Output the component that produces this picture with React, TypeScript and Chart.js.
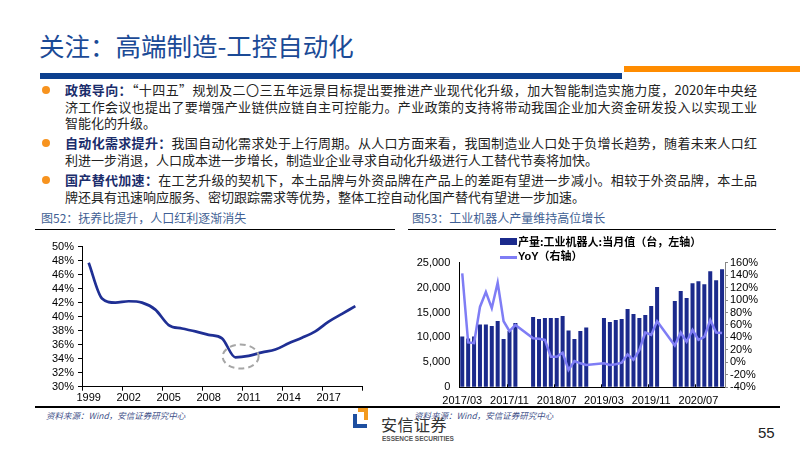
import React, { useEffect, useRef } from 'react';
import { Chart, registerables } from 'chart.js';
Chart.register(...registerables);

// ---- Figure 52 data: dependency ratio ----
const years = ['1999','2000','2001','2002','2003','2004','2005','2006','2007','2008','2009','2010','2011','2012','2013','2014','2015','2016','2017','2018','2019'];
const dependencyRatio = [47.7, 42.6, 42.0, 42.2, 42.0, 41.0, 38.8, 38.3, 37.9, 37.4, 36.9, 34.2, 34.4, 34.9, 35.3, 36.2, 37.0, 37.9, 39.3, 40.4, 41.5];
const leftTicksMin = 30;
const leftTicksMax = 50;

// ---- Figure 53 data: industrial robot output ----
const months = [
  '2017/03','2017/04','2017/05','2017/06','2017/07','2017/08','2017/09','2017/10','2017/11','2017/12',
  '2018/01','2018/02','2018/03','2018/04','2018/05','2018/06','2018/07','2018/08','2018/09','2018/10','2018/11','2018/12',
  '2019/01','2019/02','2019/03','2019/04','2019/05','2019/06','2019/07','2019/08','2019/09','2019/10','2019/11','2019/12',
  '2020/01','2020/02','2020/03','2020/04','2020/05','2020/06','2020/07','2020/08','2020/09','2020/10','2020/11'
];
const robotOutput = [
  10200, 9800, 10200, 12600, 12600, 12300, 13300, 9700, 11300, 12900,
  null, null, 14100, 13700, 13900, 13900, 13900, 14300, 11400, 9700, 11300, 12000,
  null, null, 13900, 13100, 13500, 13700, 15700, 14700, 13900, 14500, 16300, 20100,
  null, null, 17300, 19300, 17900, 20900, 21300, 20700, 23300, 21500, 23700
];
const robotYoY = [
  143, 32, 31, 89, 113, 87, 128, 66, 50, 60,
  null, null, 38.6, 38, 36, 9, 9, 15.6, -12, 2, -1.5, -4,
  null, null, -1.5, -4, -3, -0.5, 13, 4, 20, 48, 44, 66,
  null, null, 27, 48, 33, 52, 36, 41, 68, 48, 47
];
const outputLabel = '产量:工业机器人:当月值（台，左轴）';
const yoyLabel = 'YoY（右轴）';

const AXIS_FONT = { family: '"Liberation Sans", Arial, sans-serif', size: 11 };
const CJK = '"Noto Sans CJK SC", "Noto Sans", sans-serif';

const ellipsePlugin = {
  id: 'ellipseMark',
  afterDatasetsDraw(chart: any) {
    const x = chart.scales.x;
    const y = chart.scales.y;
    const cx = x.getPixelForValue(11.4);
    const cy = y.getPixelForValue(34.3);
    const ctx = chart.ctx;
    ctx.save();
    ctx.strokeStyle = '#A6A6A6';
    ctx.lineWidth = 2;
    ctx.setLineDash([6, 4]);
    ctx.beginPath();
    ctx.ellipse(cx, cy, 18, 12, 0, 0, Math.PI * 2);
    ctx.stroke();
    ctx.restore();
  },
};

const innerTicksPlugin = {
  id: 'innerTicks',
  afterDraw(chart: any) {
    const x = chart.scales.x;
    const bottom = chart.chartArea.bottom;
    const ctx = chart.ctx;
    ctx.save();
    ctx.strokeStyle = '#000';
    ctx.lineWidth = 1;
    for (let i = 8; i < months.length; i += 8) {
      const px = Math.round(x.getPixelForValue(i - 0.5)) + 0.5;
      ctx.beginPath();
      ctx.moveTo(px, bottom);
      ctx.lineTo(px, bottom - 3);
      ctx.stroke();
    }
    ctx.restore();
  },
};

function LeftChart() {
  const ref = useRef<HTMLCanvasElement>(null);
  useEffect(() => {
    const chart = new Chart(ref.current as HTMLCanvasElement, {
      type: 'line',
      data: {
        labels: years,
        datasets: [{
          data: dependencyRatio,
          borderColor: '#1F2F94',
          borderWidth: 2.7,
          pointRadius: 0,
          cubicInterpolationMode: 'monotone',
          fill: false,
        }],
      },
      options: {
        responsive: false,
        animation: false,
        devicePixelRatio: 1,
        layout: { padding: { top: 8.3, right: 33, left: 0, bottom: 0 } },
        plugins: { legend: { display: false }, tooltip: { enabled: false } },
        scales: {
          x: {
            type: 'category',
            offset: true,
            grid: {
              offset: true,
              drawOnChartArea: false,
              drawTicks: true,
              tickLength: 4,
              tickColor: (c: any) => (c.index === undefined || c.index % 3 === 0 ? '#000' : 'rgba(0,0,0,0)'),
            },
            border: { color: '#000', width: 1 },
            ticks: {
              autoSkip: false,
              maxRotation: 0,
              padding: 1,
              color: '#000',
              font: AXIS_FONT,
              callback: (_v: any, i: number) => (i % 3 === 0 ? years[i] : ''),
            },
            afterFit: (s: any) => { s.height = 19.3; },
          },
          y: {
            min: leftTicksMin,
            max: leftTicksMax,
            grid: { drawOnChartArea: false, drawTicks: true, tickLength: 4, tickColor: '#000' },
            border: { color: '#000', width: 1 },
            ticks: {
              autoSkip: false,
              stepSize: 2,
              padding: 4,
              color: '#000',
              font: AXIS_FONT,
              callback: (v: any) => `${v}%`,
            },
            afterFit: (s: any) => { s.width = 47; },
          },
        },
      } as any,
      plugins: [ellipsePlugin],
    });
    return () => chart.destroy();
  }, []);
  return <canvas ref={ref} width={360} height={170} style={{ position: 'absolute', left: 35, top: 236 }} />;
}

function RightChart() {
  const ref = useRef<HTMLCanvasElement>(null);
  useEffect(() => {
    const chart = new Chart(ref.current as HTMLCanvasElement, {
      type: 'bar',
      data: {
        labels: months,
        datasets: [
          {
            type: 'line',
            label: yoyLabel,
            data: robotYoY,
            yAxisID: 'y1',
            borderColor: '#7F7DF5',
            borderWidth: 2.5,
            pointRadius: 0,
            spanGaps: true,
            tension: 0,
            order: 0,
          },
          {
            type: 'bar',
            label: outputLabel,
            data: robotOutput,
            yAxisID: 'y',
            backgroundColor: '#1B2A8C',
            barPercentage: 0.68,
            categoryPercentage: 1,
            order: 1,
          },
        ],
      },
      options: {
        responsive: false,
        animation: false,
        devicePixelRatio: 1,
        layout: { padding: { top: 30.7, right: 0, left: 0, bottom: 0 } },
        plugins: { legend: { display: false }, tooltip: { enabled: false } },
        scales: {
          x: {
            type: 'category',
            offset: true,
            grid: { display: true, drawOnChartArea: false, drawTicks: false },
            border: { color: '#000', width: 1 },
            ticks: {
              autoSkip: false,
              maxRotation: 0,
              padding: 7,
              color: '#000',
              font: AXIS_FONT,
              callback: (_v: any, i: number) => (i % 8 === 0 ? months[i] : ''),
            },
            afterFit: (s: any) => { s.height = 18.7; },
          },
          y: {
            position: 'left',
            min: 0,
            max: 25000,
            grid: { drawOnChartArea: false, drawTicks: false },
            border: { color: '#000', width: 1 },
            ticks: { autoSkip: false, stepSize: 5000, padding: 9, color: '#000', font: AXIS_FONT },
            afterFit: (s: any) => { s.width = 54.3; },
          },
          y1: {
            position: 'right',
            min: -40,
            max: 160,
            grid: { drawOnChartArea: false, drawTicks: true, tickLength: 3, tickColor: '#888' },
            border: { color: '#888', width: 1 },
            ticks: {
              autoSkip: false,
              stepSize: 20,
              padding: 2,
              color: '#000',
              font: AXIS_FONT,
              callback: (v: any) => `${v}%`,
            },
            afterFit: (s: any) => { s.width = 55; },
          },
        },
      } as any,
      plugins: [innerTicksPlugin],
    });
    return () => chart.destroy();
  }, []);
  return <canvas ref={ref} width={375} height={174} style={{ position: 'absolute', left: 405, top: 232 }} />;
}

const fullLine: React.CSSProperties = { textAlign: 'justify', textAlignLast: 'justify' as any, whiteSpace: 'nowrap', overflow: 'hidden' };
const lastLine: React.CSSProperties = { textAlign: 'left', whiteSpace: 'nowrap' };
const head: React.CSSProperties = { fontWeight: 700, color: '#1B2D6B' };

function Bullet({ top }: { top: number }) {
  return <div style={{ position: 'absolute', left: 42, top: top - 4, width: 8, height: 8, borderRadius: 4, background: '#F7931E' }} />;
}

export default function App() {
  const paraStyle: React.CSSProperties = { position: 'absolute', left: 65, width: 692, fontFamily: CJK, fontSize: 13, lineHeight: '16.5px', color: '#222' };
  return (
    <div style={{ position: 'fixed', left: 0, top: 0, width: 800, height: 450, background: '#fff', overflow: 'hidden', fontFamily: CJK }}>
      {/* Header */}
      <div style={{ position: 'absolute', left: 39, top: 28, fontSize: 25.5, color: '#1B4A96', whiteSpace: 'nowrap', lineHeight: '34px' }}>关注：高端制造-工控自动化</div>
      <div style={{ position: 'absolute', left: 40, top: 73, width: 582, height: 6, background: '#0C3F8E' }} />
      <div style={{ position: 'absolute', left: 624, top: 66, width: 176, height: 6, background: '#FF8C00' }} />

      {/* Bullets */}
      <Bullet top={90} />
      <div style={{ ...paraStyle, top: 82 }}>
        <div style={fullLine}><span style={head}>政策导向：</span>“十四五”规划及二〇三五年远景目标提出要推进产业现代化升级，加大智能制造实施力度，2020年中央经</div>
        <div style={fullLine}>济工作会议也提出了要增强产业链供应链自主可控能力。产业政策的支持将带动我国企业加大资金研发投入以实现工业</div>
        <div style={lastLine}>智能化的升级。</div>
      </div>
      <Bullet top={143} />
      <div style={{ ...paraStyle, top: 135 }}>
        <div style={fullLine}><span style={head}>自动化需求提升：</span>我国自动化需求处于上行周期。从人口方面来看，我国制造业人口处于负增长趋势，随着未来人口红</div>
        <div style={lastLine}>利进一步消退，人口成本进一步增长，制造业企业寻求自动化升级进行人工替代节奏将加快。</div>
      </div>
      <Bullet top={180} />
      <div style={{ ...paraStyle, top: 172 }}>
        <div style={fullLine}><span style={head}>国产替代加速：</span>在工艺升级的契机下，本土品牌与外资品牌在产品上的差距有望进一步减小。相较于外资品牌，本土品</div>
        <div style={lastLine}>牌还具有迅速响应服务、密切跟踪需求等优势，整体工控自动化国产替代有望进一步加速。</div>
      </div>

      {/* Figure titles */}
      <div style={{ position: 'absolute', left: 41, top: 210, fontSize: 12, color: '#3F5F94', whiteSpace: 'nowrap', lineHeight: '16px' }}>图52：抚养比提升，人口红利逐渐消失</div>
      <div style={{ position: 'absolute', left: 35, top: 228.5, width: 360, height: 1.5, background: '#000' }} />
      <div style={{ position: 'absolute', left: 412, top: 210, fontSize: 12, color: '#3F5F94', whiteSpace: 'nowrap', lineHeight: '16px' }}>图53：工业机器人产量维持高位增长</div>
      <div style={{ position: 'absolute', left: 408, top: 228.5, width: 368, height: 1.5, background: '#000' }} />

      <LeftChart />
      <RightChart />

      {/* Right chart legend */}
      <div style={{ position: 'absolute', left: 500, top: 238, width: 17, height: 7, background: '#1B2A8C' }} />
      <div style={{ position: 'absolute', left: 518, top: 234, fontSize: 11, fontWeight: 700, color: '#000', whiteSpace: 'nowrap', lineHeight: '15px' }}>{outputLabel}</div>
      <div style={{ position: 'absolute', left: 500, top: 255.5, width: 17, height: 3, background: '#7F7DF5' }} />
      <div style={{ position: 'absolute', left: 518, top: 249, fontSize: 11, fontWeight: 700, color: '#000', whiteSpace: 'nowrap', lineHeight: '15px', fontFamily: '"Liberation Sans", ' + CJK }}>{yoyLabel}</div>

      {/* Bottom rule and sources */}
      <div style={{ position: 'absolute', left: 35, top: 406, width: 745, height: 1.5, background: '#000' }} />
      <div style={{ position: 'absolute', left: 46, top: 409, fontSize: 8.5, color: '#3E4F88', whiteSpace: 'nowrap', lineHeight: '12px', fontStyle: 'italic' }}>资料来源：Wind，安信证券研究中心</div>
      <div style={{ position: 'absolute', left: 414, top: 409, fontSize: 8.5, color: '#3E4F88', whiteSpace: 'nowrap', lineHeight: '12px', fontStyle: 'italic' }}>资料来源：Wind，安信证券研究中心</div>

      {/* Logo */}
      <div style={{ position: 'absolute', left: 358, top: 408, width: 10, height: 4, background: '#F39A1E' }} />
      <div style={{ position: 'absolute', left: 364, top: 408, width: 4, height: 12, background: '#F39A1E' }} />
      <div style={{ position: 'absolute', left: 353, top: 414, width: 4, height: 14, background: '#1E4FA0' }} />
      <div style={{ position: 'absolute', left: 353, top: 424, width: 14, height: 4, background: '#1E4FA0' }} />
      <div style={{ position: 'absolute', left: 381, top: 414, fontSize: 16, color: '#333', whiteSpace: 'nowrap', lineHeight: '20px', letterSpacing: 0.5 }}>安信证券</div>
      <div style={{ position: 'absolute', left: 382, top: 435, fontSize: 6.5, color: '#555', whiteSpace: 'nowrap', lineHeight: '8px', fontFamily: '"Liberation Sans Narrow", "Liberation Sans", sans-serif', fontWeight: 700 }}>ESSENCE SECURITIES</div>

      {/* Page number */}
      <div style={{ position: 'absolute', left: 758, top: 424, fontSize: 15, color: '#222', whiteSpace: 'nowrap', lineHeight: '18px', fontFamily: '"Liberation Sans Narrow", "Liberation Sans", sans-serif' }}>55</div>
    </div>
  );
}
